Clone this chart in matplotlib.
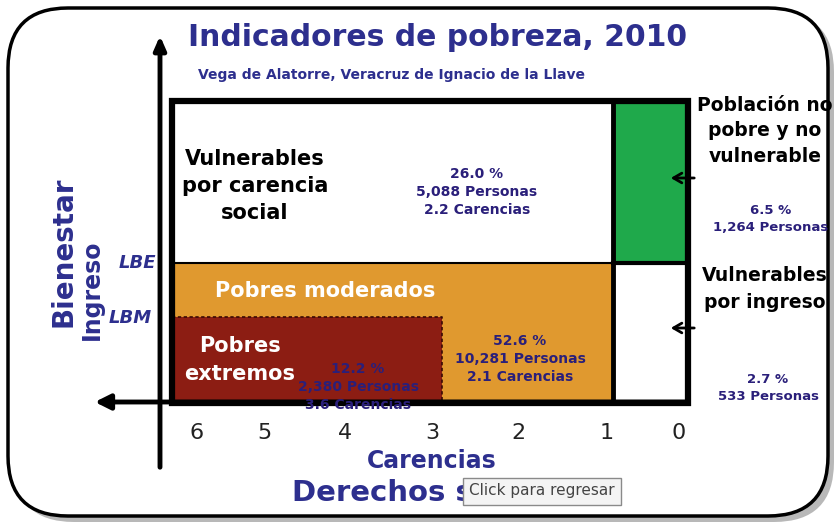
import matplotlib
matplotlib.use('Agg')
import matplotlib.pyplot as plt
import matplotlib.patches as patches

# --- data ---
title = 'Indicadores de pobreza, 2010'
subtitle = 'Vega de Alatorre, Veracruz de Ignacio de la Llave'
carencias_ticks = ['6', '5', '4', '3', '2', '1', '0']

groups = ['Vulnerables por carencia social', 'Pobres moderados', 'Pobres extremos',
          'Población no pobre y no vulnerable', 'Vulnerables por ingreso']
pct = [26.0, 52.6, 12.2, 6.5, 2.7]
personas = [5088, 10281, 2380, 1264, 533]
carencias = [2.2, 2.1, 3.6, None, None]

# --- layout (pixel coordinates) ---
W, H = 839, 525
BLUE = '#2d2f8e'
NAVY = '#2a1f7a'
ORANGE = '#e0992f'
DARKRED = '#8c1d13'
GREEN = '#1fa94b'

fig = plt.figure(figsize=(W / 100, H / 100), dpi=100)
ax = fig.add_axes([0, 0, 1, 1])
ax.set_xlim(0, W)
ax.set_ylim(H, 0)
ax.axis('off')

# rounded outer frame with a soft shadow
shadow = patches.FancyBboxPatch((14, 12), 820, 510, boxstyle='round,pad=0,rounding_size=60',
                                linewidth=0, facecolor='#b8b8b8', zorder=0)
ax.add_patch(shadow)
frame = patches.FancyBboxPatch((8, 8), 820, 508, boxstyle='round,pad=0,rounding_size=60',
                               linewidth=2.5, edgecolor='black', facecolor='white', zorder=1)
ax.add_patch(frame)

# colored regions
left, right, top, bottom = 172, 688, 101, 403
xdiv, ydiv, xext = 613, 263, 442
ax.add_patch(patches.Rectangle((left, ydiv), xdiv - left, bottom - ydiv,
                               facecolor=ORANGE, edgecolor='none', zorder=2))
ax.add_patch(patches.Rectangle((left, 317), xext - left, bottom - 317,
                               facecolor=DARKRED, edgecolor='none', zorder=3))
ax.plot([left, xext, xext], [317, 317, bottom], color='#3a0a05', lw=1.2,
        ls=(0, (2, 1.5)), zorder=4)
ax.add_patch(patches.Rectangle((xdiv, top), right - xdiv, ydiv - top,
                               facecolor=GREEN, edgecolor='none', zorder=2))

# box lines
ax.add_patch(patches.Rectangle((left, top), right - left, bottom - top,
                               facecolor='none', edgecolor='black', lw=4.5, zorder=6))
ax.plot([xdiv, xdiv], [top, bottom], color='black', lw=3.5, zorder=6)
ax.plot([left, right], [ydiv, ydiv], color='black', lw=1.5, zorder=5)
ax.plot([xdiv, right], [ydiv, ydiv], color='black', lw=3, zorder=6)

# axes arrows
ax.annotate('', xy=(160, 33), xytext=(160, 470),
            arrowprops=dict(arrowstyle='-|>,head_width=0.35,head_length=0.8', lw=3.5, color='black'),
            zorder=7)
ax.annotate('', xy=(92, 402), xytext=(690, 402),
            arrowprops=dict(arrowstyle='-|>,head_width=0.45,head_length=0.9', lw=3.5, color='black'),
            zorder=7)

# titles
ax.text(438, 38, title, ha='center', va='center', fontsize=21.5, fontweight='bold', color=BLUE, zorder=8)
ax.text(392, 75, subtitle, ha='center', va='center', fontsize=10, fontweight='bold',
        color=BLUE, zorder=8)

# region labels
ax.text(255, 186, 'Vulnerables\npor carencia\nsocial', ha='center', va='center', fontsize=15,
        fontweight='bold', color='black', linespacing=1.45, zorder=8)
ax.text(325, 291, groups[1], ha='center', va='center', fontsize=15,
        fontweight='bold', color='white', zorder=8)
ax.text(240, 360, 'Pobres\nextremos', ha='center', va='center', fontsize=15,
        fontweight='bold', color='white', linespacing=1.5, zorder=8)
ax.text(765, 131, 'Población no\npobre y no\nvulnerable', ha='center', va='center', fontsize=13.5,
        fontweight='bold', color='black', linespacing=1.45, zorder=8)
ax.text(765, 289, 'Vulnerables\npor ingreso', ha='center', va='center', fontsize=13.5,
        fontweight='bold', color='black', linespacing=1.55, zorder=8)


def fmt(i):
    s = f'{pct[i]:.1f} %\n{personas[i]:,} Personas'
    if carencias[i] is not None:
        s += f'\n{carencias[i]:.1f} Carencias'
    return s


ax.text(477, 192, fmt(0), ha='center', va='center', fontsize=10, fontweight='bold',
        color=NAVY, linespacing=1.4, zorder=8)
ax.text(520, 359, fmt(1), ha='center', va='center', fontsize=10, fontweight='bold',
        color=NAVY, linespacing=1.35, zorder=8)
ax.text(358, 387, fmt(2), ha='center', va='center', fontsize=10, fontweight='bold',
        color=NAVY, linespacing=1.35, zorder=8)
ax.text(771, 219, fmt(3), ha='center', va='center', fontsize=9.5, fontweight='bold',
        color=NAVY, linespacing=1.45, zorder=8)
ax.text(768, 388, fmt(4), ha='center', va='center', fontsize=9.5, fontweight='bold',
        color=NAVY, linespacing=1.45, zorder=8)

# small arrows pointing to the right boxes
for y in [178, 328]:
    ax.annotate('', xy=(668, y), xytext=(697, y),
                arrowprops=dict(arrowstyle='->,head_width=0.35,head_length=0.6', lw=2, color='black'),
                zorder=8)

# LBE / LBM
ax.text(137, 263, 'LBE', ha='center', va='center', fontsize=13, fontweight='bold',
        style='italic', color=BLUE, zorder=8)
ax.text(130, 318, 'LBM', ha='center', va='center', fontsize=13, fontweight='bold',
        style='italic', color=BLUE, zorder=8)

# y-axis labels
ax.text(63, 252, 'Bienestar', ha='center', va='center', rotation=90, fontsize=20,
        fontweight='bold', color=BLUE, zorder=8)
ax.text(92, 290, 'Ingreso', ha='center', va='center', rotation=90, fontsize=17,
        fontweight='bold', color=BLUE, zorder=8)

# x ticks (carencias)
tick_x = [197, 264, 345, 432, 518, 607, 679]
for x, lab in zip(tick_x, carencias_ticks):
    ax.text(x, 433, lab, ha='center', va='center', fontsize=16, color='#222222', zorder=8)

ax.text(432, 461, 'Carencias', ha='center', va='center', fontsize=17, fontweight='bold',
        color=BLUE, zorder=8)
ax.text(292, 493, 'Derechos sociales', ha='left', va='center', fontsize=21, fontweight='bold',
        color=BLUE, zorder=8)

# tooltip overlay
ax.add_patch(patches.Rectangle((463, 478), 158, 27, facecolor='#f4f4f4', edgecolor='#8a8a8a',
                               lw=1, zorder=9))
ax.text(542, 491, 'Click para regresar', ha='center', va='center', fontsize=11,
        color='#444444', zorder=10)

fig.savefig('out.png', dpi=100)
